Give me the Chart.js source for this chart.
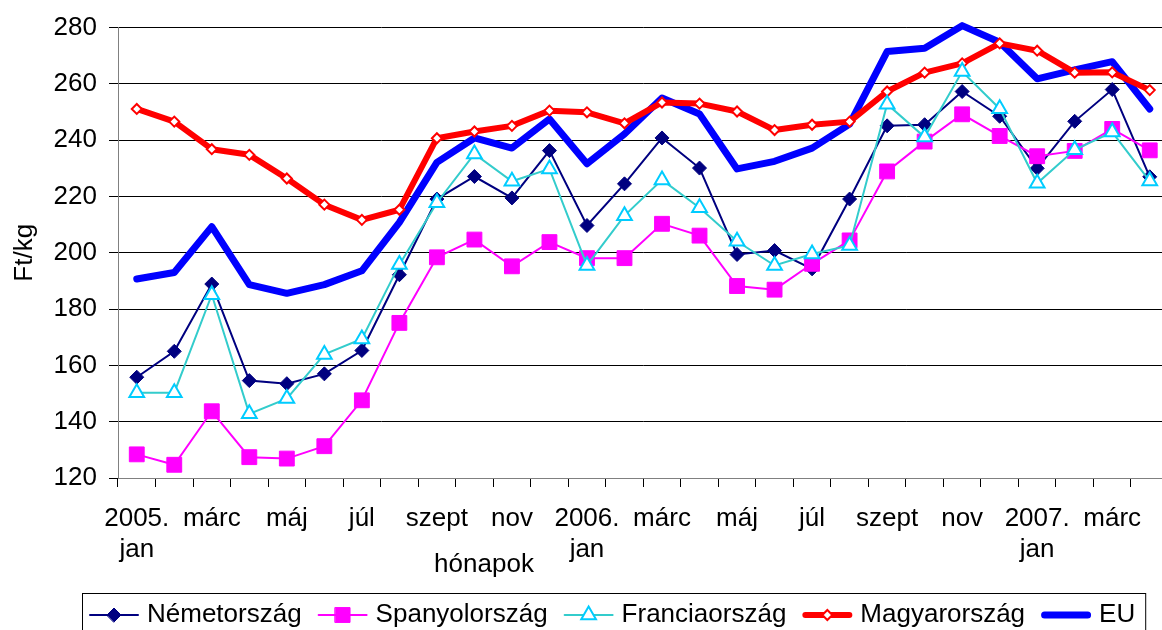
<!DOCTYPE html>
<html>
<head>
<meta charset="utf-8">
<script src="https://cdn.jsdelivr.net/npm/chart.js@4.4.0/dist/chart.umd.min.js"></script>
<style>
  html, body { margin: 0; padding: 0; background: #fff; overflow: hidden; }
</style>
</head>
<body>
<canvas id="priceChart" width="1180" height="630"></canvas>
<script>
// months: 2005. jan - 2007. ápr
const months = ['2005. jan', 'febr', 'márc', 'ápr', 'máj', 'jún', 'júl', 'aug', 'szept', 'okt', 'nov', 'dec',
    '2006. jan', 'febr', 'márc', 'ápr', 'máj', 'jún', 'júl', 'aug', 'szept', 'okt', 'nov', 'dec',
    '2007. jan', 'febr', 'márc', 'ápr'];

// only every second month is labelled on the axis
const tickLabels = [['2005.', 'jan'], '', 'márc', '', 'máj', '', 'júl', '', 'szept', '', 'nov', '',
    ['2006.', 'jan'], '', 'márc', '', 'máj', '', 'júl', '', 'szept', '', 'nov', '',
    ['2007.', 'jan'], '', 'márc', ''];

const nemetorszag = [155.8, 165.0, 188.9, 154.6, 153.5, 157.0, 165.3, 192.2, 219.1, 227.1, 219.5, 236.3,
    209.7, 224.5, 240.8, 230.1, 199.4, 200.8, 194.3, 219.1, 245.1, 245.5, 257.3, 248.5,
    230.0, 246.7, 258.0, 227.0];
const spanyolorszag = [128.4, 124.7, 143.7, 127.4, 126.9, 131.3, 147.6, 175.1, 198.4, 204.7, 195.2, 203.8,
    198.1, 198.1, 210.3, 206.1, 188.2, 186.9, 196.1, 204.4, 228.9, 239.5, 249.2, 241.5,
    234.3, 236.2, 244.0, 236.4];
const franciaorszag = [150.3, 150.3, 185.1, 142.8, 148.2, 163.9, 169.4, 195.8, 217.8, 235.1, 225.4, 229.8,
    195.5, 213.2, 225.9, 216.0, 204.1, 195.5, 199.6, 202.6, 252.8, 241.1, 264.4, 251.2,
    224.7, 236.6, 242.9, 225.5];
const magyarorszag = [251.1, 246.6, 236.8, 234.8, 226.4, 217.1, 211.7, 215.3, 240.7, 243.1, 245.1, 250.5,
    249.9, 246.0, 253.4, 253.0, 250.2, 243.6, 245.5, 246.6, 257.3, 264.0, 267.3, 274.4,
    271.8, 264.0, 264.1, 257.8];
const eu = [190.7, 193.0, 209.3, 188.7, 185.6, 188.7, 193.6, 210.8, 232.1, 240.8, 237.2, 247.5,
    231.6, 242.2, 255.0, 249.3, 229.8, 232.5, 237.2, 245.7, 271.5, 272.7, 280.7, 274.8,
    261.8, 265.0, 267.9, 251.1];

const FONT = "'Liberation Sans', Arial, sans-serif";
Chart.defaults.font.family = FONT;
Chart.defaults.font.size = 26;
Chart.defaults.color = '#000';

// small marker painter for the legend samples
function drawMarker(ctx, ds, x, y) {
    const r = ds.pointRadius;
    if (!r) return;
    ctx.beginPath();
    if (ds.pointStyle === 'rectRot') {
        ctx.moveTo(x - r, y);
        ctx.lineTo(x, y - r);
        ctx.lineTo(x + r, y);
        ctx.lineTo(x, y + r);
    } else if (ds.pointStyle === 'rect') {
        const s = r * Math.SQRT1_2;
        ctx.rect(x - s, y - s, 2 * s, 2 * s);
    } else if (ds.pointStyle === 'triangle') {
        ctx.moveTo(x, y - r);
        ctx.lineTo(x + r * 0.866, y + r * 0.5);
        ctx.lineTo(x - r * 0.866, y + r * 0.5);
    }
    ctx.closePath();
    ctx.fillStyle = ds.pointBackgroundColor;
    ctx.fill();
    ctx.lineWidth = ds.pointBorderWidth;
    ctx.strokeStyle = ds.pointBorderColor;
    ctx.stroke();
}

// Excel style legend: line sample + marker, framed box under the axis
const boxLegend = {
    id: 'boxLegend',
    afterDraw(chart) {
        const ctx = chart.ctx;
        const area = chart.chartArea;
        const top = area.bottom + 115;
        const lineY = top + 22;
        const startX = 89;
        let x = startX;
        ctx.save();
        ctx.font = '26px ' + FONT;
        ctx.textBaseline = 'alphabetic';
        ctx.textAlign = 'left';
        chart.data.datasets.forEach((ds, i) => {
            ctx.beginPath();
            ctx.lineCap = 'round';
            ctx.strokeStyle = ds.borderColor;
            ctx.lineWidth = ds.borderWidth;
            ctx.moveTo(x + ds.borderWidth / 2, lineY);
            ctx.lineTo(x + 50 - ds.borderWidth / 2, lineY);
            ctx.stroke();
            drawMarker(ctx, ds, x + 25, lineY);
            ctx.fillStyle = '#000';
            ctx.fillText(ds.label, x + 58, top + 29);
            x += 58 + ctx.measureText(ds.label).width;
            if (i < chart.data.datasets.length - 1) x += 16;
        });
        ctx.lineWidth = 1;
        ctx.strokeStyle = '#000';
        ctx.strokeRect(startX - 6.5, top + 0.5, x - startX + 17, 60);
        ctx.restore();
    }
};

// axis title placed left of centre like in the original
const xTitle = {
    id: 'xTitle',
    afterDraw(chart) {
        const ctx = chart.ctx;
        const area = chart.chartArea;
        ctx.save();
        ctx.font = '26px ' + FONT;
        ctx.fillStyle = '#000';
        ctx.textAlign = 'center';
        ctx.textBaseline = 'alphabetic';
        ctx.fillText('hónapok', area.left + 366, area.bottom + 94);
        ctx.restore();
    }
};

function createPriceChart() {
    const ctx = document.getElementById('priceChart').getContext('2d');

    new Chart(ctx, {
        type: 'line',
        data: {
            labels: months,
            datasets: [{
                label: 'Németország',
                data: nemetorszag,
                borderColor: '#000080',
                borderWidth: 2,
                pointStyle: 'rectRot',
                pointRadius: 7,
                pointBackgroundColor: '#000080',
                pointBorderColor: '#000080',
                pointBorderWidth: 1,
                order: 3
            },
            {
                label: 'Spanyolország',
                data: spanyolorszag,
                borderColor: '#FF00FF',
                borderWidth: 2,
                pointStyle: 'rect',
                pointRadius: 10.5,
                pointBackgroundColor: '#FF00FF',
                pointBorderColor: '#FF00FF',
                pointBorderWidth: 1,
                order: 2
            },
            {
                label: 'Franciaország',
                data: franciaorszag,
                borderColor: '#33CCCC',
                borderWidth: 2,
                pointStyle: 'triangle',
                pointRadius: 8.5,
                pointBackgroundColor: '#FFFFFF',
                pointBorderColor: '#00CCFF',
                pointBorderWidth: 2,
                order: 1
            },
            {
                label: 'Magyarország',
                data: magyarorszag,
                borderColor: '#FF0000',
                borderWidth: 6,
                borderJoinStyle: 'round',
                borderCapStyle: 'round',
                pointStyle: 'rectRot',
                pointRadius: 5,
                pointBackgroundColor: '#FFFFFF',
                pointBorderColor: '#FF0000',
                pointBorderWidth: 2,
                order: 4
            },
            {
                label: 'EU',
                data: eu,
                borderColor: '#0000FF',
                borderWidth: 7,
                borderJoinStyle: 'round',
                borderCapStyle: 'round',
                pointRadius: 0,
                clip: false,
                order: 5
            }]
        },
        options: {
            responsive: false,
            animation: false,
            layout: {
                padding: { top: 26, right: 8, left: 0, bottom: 0 }
            },
            elements: {
                line: { tension: 0 }
            },
            plugins: {
                legend: { display: false },
                tooltip: { enabled: false }
            },
            scales: {
                x: {
                    offset: true,
                    grid: {
                        offset: true,
                        drawOnChartArea: false,
                        tickLength: 9,
                        color: '#000'
                    },
                    border: { color: '#808080' },
                    ticks: {
                        autoSkip: false,
                        maxRotation: 0,
                        padding: 16,
                        font: { size: 26, lineHeight: 1.2 },
                        callback: (value, index) => tickLabels[index]
                    },
                    afterFit: (scale) => { scale.height = 152; }
                },
                y: {
                    min: 120,
                    max: 280,
                    ticks: {
                        stepSize: 20,
                        padding: 12,
                        font: { size: 26 }
                    },
                    grid: {
                        color: '#000',
                        tickLength: 9
                    },
                    border: { color: '#808080' },
                    title: {
                        display: true,
                        text: 'Ft/kg',
                        font: { size: 26 },
                        padding: { top: 9, bottom: 0 }
                    },
                    afterFit: (scale) => { scale.width = 118; }
                }
            }
        },
        plugins: [boxLegend, xTitle]
    });
}

document.addEventListener('DOMContentLoaded', () => {
    createPriceChart();
});
</script>
</body>
</html>
